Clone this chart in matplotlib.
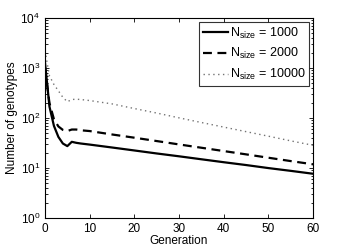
"""
Number of genotypes over generations for three population sizes.
"""

import matplotlib
matplotlib.use('Agg')
import matplotlib.pyplot as plt
from matplotlib.ticker import LogLocator, NullFormatter

plt.rcParams['font.family'] = ['Liberation Sans', 'DejaVu Sans']
plt.rcParams['mathtext.default'] = 'regular'

generations = [0, 1, 2, 3, 4, 5, 6, 7, 8, 10, 15, 20, 25, 30, 35, 40, 45, 50, 55, 60]
n_1000 = [1300, 170, 70, 42, 31, 27.5, 33.5, 32, 31, 29.5, 25.8, 22.5, 19.6, 17.2,
          15.0, 13.1, 11.5, 10.0, 8.8, 7.7]
n_2000 = [1000, 200, 95, 68, 58, 55, 59, 59, 57, 55, 47, 40.5, 34.7, 29.7,
          25.5, 21.9, 18.8, 16.1, 13.8, 11.9]
n_10000 = [2200, 700, 470, 350, 260, 212, 235, 238, 235, 224, 192, 155, 126, 101,
           81.5, 66, 53.5, 43.4, 35, 28.5]
labels = ['N$_{size}$ = 1000', 'N$_{size}$ = 2000', 'N$_{size}$ = 10000']

fig = plt.figure(figsize=(3.46, 2.47), dpi=100)
ax = fig.add_axes([0.130, 0.117, 0.775, 0.810])

ax.plot(generations, n_1000, color='black', lw=1.6, label=labels[0])
ax.plot(generations, n_2000, color='black', lw=1.6, linestyle=(0, (4, 2.5)), label=labels[1])
ax.plot(generations, n_10000, color='0.45', lw=1.0, linestyle=(0, (1, 2.5)), label=labels[2])

ax.set_yscale('log')
ax.set_xlim(0, 60)
ax.set_ylim(1, 1e4)
ax.set_xticks([0, 10, 20, 30, 40, 50, 60])
ax.yaxis.set_major_locator(LogLocator(base=10, numticks=10))
ax.yaxis.set_minor_locator(LogLocator(base=10, subs=range(2, 10), numticks=10))
ax.yaxis.set_minor_formatter(NullFormatter())
ax.tick_params(which='both', direction='in', top=True, right=True, labelsize=8.5, width=0.6)
ax.tick_params(which='major', length=3)
ax.tick_params(which='minor', length=1.8)
for s in ax.spines.values():
    s.set_linewidth(0.8)

ax.set_xlabel('Generation', fontsize=8.5, labelpad=0)
ax.set_ylabel('Number of genotypes', fontsize=8.5, labelpad=2)

leg = ax.legend(loc='upper right', fontsize=9, frameon=True, fancybox=False,
                edgecolor='black', handlelength=2.0, handletextpad=0.15,
                borderaxespad=0.3, borderpad=0.3, labelspacing=0.45)
leg.get_frame().set_linewidth(0.8)

fig.savefig('out.png', dpi=100)
